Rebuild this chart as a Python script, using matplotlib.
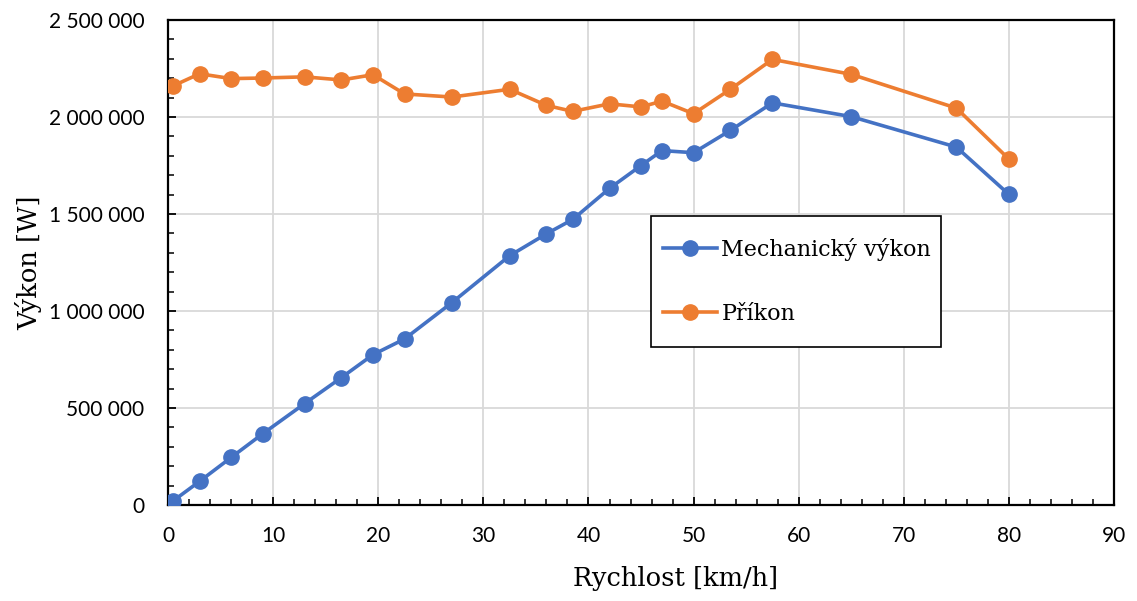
import matplotlib
matplotlib.use("Agg")
import matplotlib.pyplot as plt
from matplotlib.ticker import MultipleLocator, FuncFormatter
from matplotlib.patches import Rectangle

speed_mech = [0.5, 3, 6, 9, 13, 16.5, 19.5, 22.5, 27, 32.5, 36, 38.5, 42, 45, 47, 50, 53.5, 57.5, 65, 75, 80]
mech_power = [22000, 122000, 245000, 367000, 523000, 657000, 775000, 856000, 1043000, 1285000, 1398000,
              1472000, 1632000, 1750000, 1827000, 1816000, 1931000, 2073000, 2002000, 1845000, 1601000]
speed_in = [0.5, 3, 6, 9, 13, 16.5, 19.5, 22.5, 27, 32.5, 36, 38.5, 42, 45, 47, 50, 53.5, 57.5, 65, 75, 80]
input_power = [2161000, 2223000, 2198000, 2201000, 2207000, 2191000, 2218000, 2119000, 2103000, 2143000, 2060000,
               2029000, 2068000, 2052000, 2082000, 2017000, 2143000, 2297000, 2220000, 2046000, 1783000]
series_names = ["Mechanický výkon", "Příkon"]
x_label = "Rychlost [km/h]"
y_label = "Výkon [W]"

fig = plt.figure(figsize=(11.37, 6.01), dpi=100)
ax = fig.add_axes([0.1478, 0.1597, 0.8320, 0.8070])

ax.plot(speed_mech, mech_power, color="#4472C4", lw=2.6, marker="o", ms=11, label=series_names[0], zorder=3)
ax.plot(speed_in, input_power, color="#ED7D31", lw=2.6, marker="o", ms=11, label=series_names[1], zorder=3)

ax.set_xlim(0, 90)
ax.set_ylim(0, 2500000)
ax.xaxis.set_major_locator(MultipleLocator(10))
ax.xaxis.set_minor_locator(MultipleLocator(2))
ax.yaxis.set_major_locator(MultipleLocator(500000))
ax.yaxis.set_minor_locator(MultipleLocator(100000))
ax.yaxis.set_major_formatter(FuncFormatter(lambda v, p: f"{int(v):,}".replace(",", " ")))

ax.grid(True, which="major", color="#D9D9D9", lw=1.3, zorder=0)
ax.set_axisbelow(True)
for s in ax.spines.values():
    s.set_color("black")
    s.set_linewidth(1.6)

ax.tick_params(which="major", direction="in", length=6, width=1.3, colors="black")
ax.tick_params(which="minor", direction="in", length=4, width=1.1, colors="black")
ax.tick_params(axis="y", which="major", pad=17)
ax.tick_params(axis="x", which="major", pad=15)
for lab in ax.get_xticklabels() + ax.get_yticklabels():
    lab.set_fontfamily("Lato")
    lab.set_fontsize(15)

ax.set_xlabel(x_label, family="DejaVu Serif", fontsize=18.5)
ax.set_ylabel(y_label, family="DejaVu Serif", fontsize=18.5)
ax.xaxis.set_label_coords(0.537, -0.125)
ax.yaxis.set_label_coords(-0.133, 0.5)

# legend frame (styling only)
ax.add_patch(Rectangle((0.5106, 0.3258), 0.8171 - 0.5106, 0.5959 - 0.3258, transform=ax.transAxes,
                       facecolor="white", edgecolor="black", lw=1.2, zorder=4))
leg = ax.legend(loc="center left", bbox_to_anchor=(0.5235, 0.4608), prop={"family": "DejaVu Serif", "size": 16},
                frameon=False, borderpad=0, labelspacing=1.9, handlelength=2.43, handletextpad=0.18,
                borderaxespad=0)
leg.set_zorder(5)

fig.savefig("out.png", dpi=100)
